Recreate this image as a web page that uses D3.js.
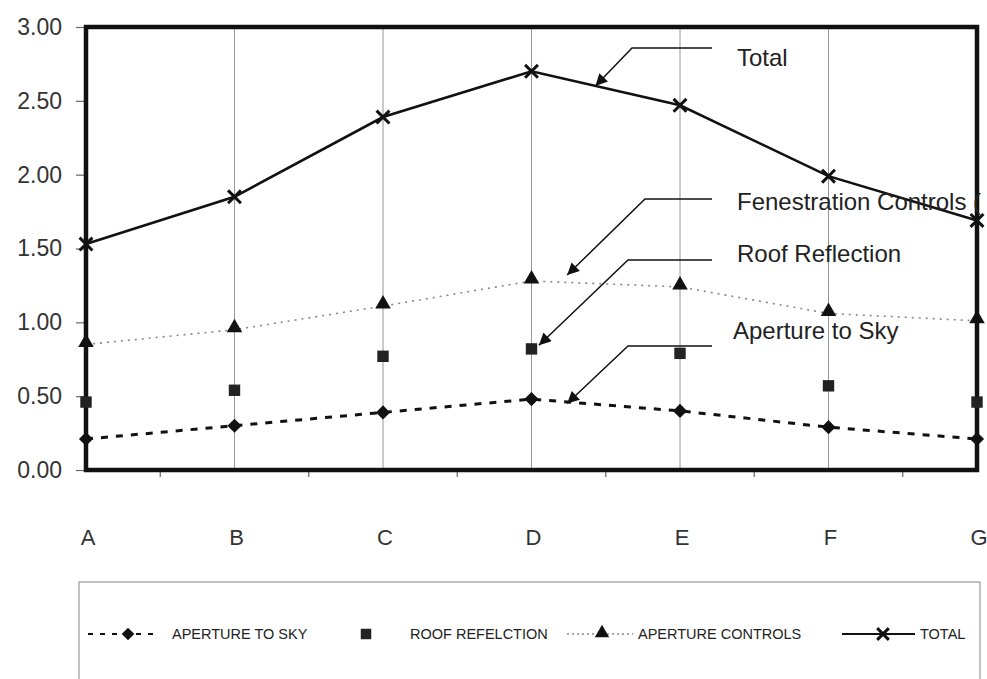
<!DOCTYPE html>
<html><head><meta charset="utf-8">
<script src="https://cdn.jsdelivr.net/npm/d3@7/dist/d3.min.js"></script>
<style>
html,body{margin:0;padding:0;background:#fff;}
svg{display:block;font-family:"Liberation Sans",Arial,sans-serif;}
</style></head>
<body>
<svg id="c" width="987" height="679"></svg>
<script>
const categories = ["A","B","C","D","E","F","G"];
const apertureToSky = [0.21,0.30,0.39,0.48,0.40,0.29,0.21];
const roofReflection = [0.46,0.54,0.77,0.82,0.79,0.57,0.46];
const apertureControls = [0.85,0.95,1.11,1.28,1.24,1.06,1.01];
const total = [1.53,1.85,2.39,2.70,2.47,1.99,1.69];
const yTicks = [0,0.5,1,1.5,2,2.5,3];
const legendLabels = ["APERTURE TO SKY","ROOF REFELCTION","APERTURE CONTROLS","TOTAL"];
const annotationLabels = ["Total","Fenestration Controls (","Roof Reflection","Aperture to Sky"];

const svg = d3.select("#c");
const L = 86, R = 977, T = 27, B = 470;
const x = d3.scalePoint().domain(categories).range([L, R]);
const y = d3.scaleLinear().domain([0,3]).range([B, T]);
const step = x.step();

// vertical gridlines
svg.append("g").selectAll("line").data(categories.slice(1,-1)).join("line")
  .attr("x1", d=>x(d)).attr("x2", d=>x(d)).attr("y1", T).attr("y2", B)
  .attr("stroke","#8a8a8a").attr("stroke-width",0.9);

// y axis
const ya = svg.append("g").attr("transform",`translate(${L},0)`)
  .call(d3.axisLeft(y).tickValues(yTicks).tickFormat(d3.format(".2f")).tickSize(10).tickPadding(14));
ya.select(".domain").remove();
ya.selectAll("line").attr("stroke","#666").attr("stroke-width",1.2);
ya.selectAll("text").attr("font-size",23).attr("fill","#333")
  .attr("font-family","'Liberation Sans',Arial,sans-serif");

// x minor ticks at midpoints
const mids = categories.slice(0,-1).map(c=>x(c)+step/2);
svg.append("g").selectAll("line").data(mids).join("line")
  .attr("x1",d=>d).attr("x2",d=>d).attr("y1",B).attr("y2",B+7)
  .attr("stroke","#666").attr("stroke-width",1.2);

// x labels
svg.append("g").selectAll("text").data(categories).join("text")
  .attr("x",d=>x(d)+2).attr("y",545).attr("text-anchor","middle")
  .attr("font-size",22).attr("fill","#333").text(d=>d);

// series
const line = d3.line().x((d,i)=>x(categories[i])).y(d=>y(d));
svg.append("path").datum(apertureControls).attr("d",line).attr("fill","none")
  .attr("stroke","#888").attr("stroke-width",1.6).attr("stroke-dasharray","2,5");
svg.append("path").datum(apertureToSky).attr("d",line).attr("fill","none")
  .attr("stroke","#111").attr("stroke-width",3).attr("stroke-dasharray","7,8");
svg.append("path").datum(total).attr("d",line).attr("fill","none")
  .attr("stroke","#111").attr("stroke-width",2.6);

// plot frame
svg.append("rect").attr("x",L).attr("y",T).attr("width",R-L).attr("height",B-T)
  .attr("fill","none").attr("stroke","#111").attr("stroke-width",4.5);

// markers
const sym = (type,size)=>d3.symbol().type(type).size(size)();
svg.append("g").selectAll("path").data(apertureToSky).join("path")
  .attr("transform",(d,i)=>`translate(${x(categories[i])},${y(d)}) rotate(45)`)
  .attr("d",sym(d3.symbolSquare,100)).attr("fill","#111");
svg.append("g").selectAll("path").data(roofReflection).join("path")
  .attr("transform",(d,i)=>`translate(${x(categories[i])},${y(d)})`)
  .attr("d",sym(d3.symbolSquare,130)).attr("fill","#222");
svg.append("g").selectAll("path").data(apertureControls).join("path")
  .attr("transform",(d,i)=>`translate(${x(categories[i])},${y(d)-2})`)
  .attr("d",sym(d3.symbolTriangle,105)).attr("fill","#111");
svg.append("g").selectAll("path").data(total).join("path")
  .attr("transform",(d,i)=>`translate(${x(categories[i])},${y(d)})`)
  .attr("d",sym(d3.symbolX,110)).attr("fill","none").attr("stroke","#111").attr("stroke-width",3);

// annotations
const defs = svg.append("defs");
defs.append("marker").attr("id","arr").attr("viewBox","0 0 10 10").attr("refX",10).attr("refY",5)
  .attr("markerWidth",16).attr("markerHeight",12).attr("markerUnits","userSpaceOnUse")
  .attr("orient","auto").append("path").attr("d","M0,0L10,5L0,10Z").attr("fill","#111");
const dX = x("D");
const ann = [
  {label:annotationLabels[0], ly:48, bx:632, tx:dX+0.43*step, tv:2.60, ty:66, lx:737},
  {label:annotationLabels[1], ly:199, bx:645, tx:dX+0.24*step, tv:1.32, ty:210, lx:737},
  {label:annotationLabels[2], ly:260, bx:628, tx:dX+0.05*step, tv:0.845, ty:262, lx:737},
  {label:annotationLabels[3], ly:346, bx:628, tx:dX+0.24*step, tv:0.45, ty:339, lx:733}
];
ann.forEach(a=>{
  svg.append("path").attr("d",`M712,${a.ly}L${a.bx},${a.ly}L${a.tx},${y(a.tv)}`)
    .attr("fill","none").attr("stroke","#111").attr("stroke-width",1.5).attr("marker-end","url(#arr)");
  svg.append("text").attr("x",a.lx).attr("y",a.ty).attr("font-size",24).attr("fill","#222").text(a.label);
});

// legend
const lg = svg.append("g");
lg.append("rect").attr("x",79).attr("y",582).attr("width",901).attr("height",130)
  .attr("fill","none").attr("stroke","#999").attr("stroke-width",1.2);
const ly = 634;
lg.append("line").attr("x1",88).attr("x2",157).attr("y1",ly).attr("y2",ly)
  .attr("stroke","#111").attr("stroke-width",2).attr("stroke-dasharray","5,7");
lg.append("path").attr("transform",`translate(128,${ly}) rotate(45)`).attr("d",sym(d3.symbolSquare,80)).attr("fill","#111");
lg.append("path").attr("transform",`translate(366,${ly})`).attr("d",sym(d3.symbolSquare,110)).attr("fill","#222");
lg.append("line").attr("x1",567).attr("x2",633).attr("y1",ly).attr("y2",ly)
  .attr("stroke","#888").attr("stroke-width",1.3).attr("stroke-dasharray","2,3");
lg.append("path").attr("transform",`translate(602,${ly-1})`).attr("d",sym(d3.symbolTriangle,90)).attr("fill","#111");
lg.append("line").attr("x1",842).attr("x2",915).attr("y1",ly).attr("y2",ly)
  .attr("stroke","#111").attr("stroke-width",2.2);
lg.append("path").attr("transform",`translate(883,${ly})`).attr("d",sym(d3.symbolX,90))
  .attr("fill","none").attr("stroke","#111").attr("stroke-width",3);
const lx = [172,410,638,920];
lg.selectAll("text.l").data(legendLabels).join("text").attr("class","l")
  .attr("x",(d,i)=>lx[i]).attr("y",ly+5).attr("font-size",14.5).attr("fill","#222").text(d=>d);
</script>
</body></html>
